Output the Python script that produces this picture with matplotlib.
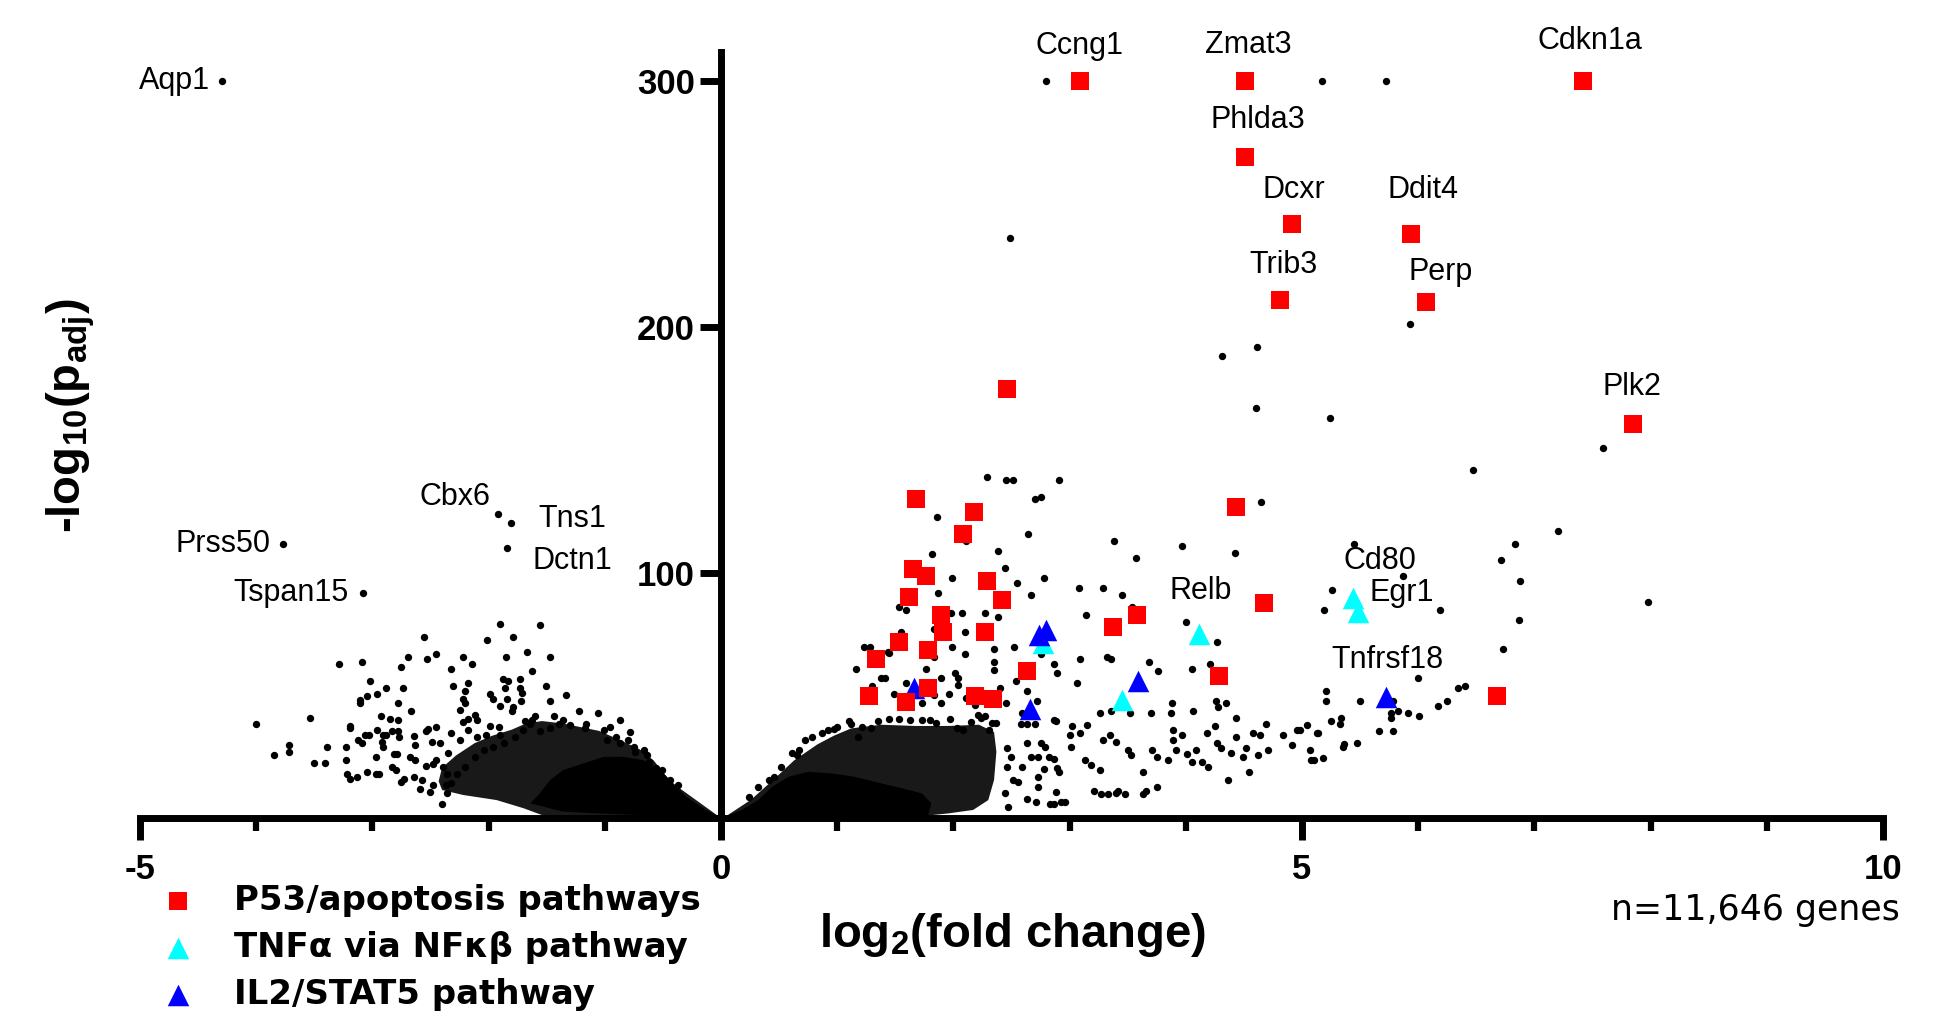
import matplotlib
matplotlib.use("Agg")
import matplotlib.pyplot as plt
from matplotlib.patches import Polygon

plt.rcParams["font.family"] = ["Liberation Sans", "DejaVu Sans"]
plt.rcParams["mathtext.fontset"] = "custom"
plt.rcParams["mathtext.rm"] = "Liberation Sans:bold"
plt.rcParams["mathtext.it"] = "Liberation Sans:bold"
plt.rcParams["mathtext.bf"] = "Liberation Sans:bold"

# ---------------- data: log2 fold change / -log10(padj) ----------------
# P53 / apoptosis pathway genes
p53_names = ["Ccng1", "Zmat3", "Cdkn1a", "Phlda3", "Dcxr", "Trib3", "Ddit4", "Perp", "Plk2",
             "", "", "", "", "", "", "", "", "", "", "",
             "", "", "", "", "", "", "", "", "", "",
             "", "", "", "", "", ""]
p53_fc = [3.09, 4.51, 7.42, 4.51, 4.91, 4.81, 5.94, 6.07, 7.85, 2.46,
          6.68, 1.68, 2.18, 2.08, 1.65, 1.76, 2.29, 1.62, 2.42, 1.89,
          1.91, 2.27, 1.53, 1.78, 1.33, 2.63, 1.78, 1.27, 1.59, 2.19,
          2.34, 3.37, 3.58, 4.43, 4.67, 4.29]
p53_p = [300, 300, 300, 269.2, 242.0, 210.8, 238.0, 210.0, 160.3, 174.8,
         49.7, 129.8, 124.7, 115.7, 101.6, 98.6, 96.6, 89.9, 88.7, 82.8,
         75.7, 75.7, 71.8, 68.6, 64.6, 59.8, 52.8, 49.7, 47.3, 49.7,
         48.5, 77.7, 82.7, 126.8, 87.7, 57.8]

# TNFa via NFkB pathway genes
tnf_names = ["", "Relb", "", "Cd80", "Egr1"]
tnf_fc = [2.77, 4.11, 3.45, 5.44, 5.48]
tnf_p = [71.1, 75.1, 48.0, 89.5, 84.0]

# IL2/STAT5 pathway genes
il2_names = ["", "", "", "", "", "Tnfrsf18"]
il2_fc = [2.74, 2.80, 1.66, 2.66, 3.59, 5.72]
il2_p = [74.5, 76.5, 52.8, 44.6, 55.8, 49.4]

# other named genes
named_genes = ["Aqp1", "Prss50", "Tspan15", "Cbx6", "Tns1", "Dctn1"]
named_fc = [-4.29, -3.77, -3.08, -1.92, -1.81, -1.84]
named_p = [300, 111.8, 91.5, 124.0, 120.0, 110.0]

# remaining individually resolved genes
other_fc = [
    -1.90, 2.80, 5.17, 5.72, 2.49, 4.31, 4.61, 4.60, 5.24, 5.93, 7.59, 6.47, 7.20, 6.83, 6.71,
    6.88, 7.98, 6.87, 6.73, 6.40, 6.34, 6.25, 6.17, 6.00, 6.01, 5.91, 5.83, 5.77, 5.77, 5.78,
    5.66, 5.78, 5.50, 5.21, 5.21, 5.25, 5.34, 5.33, 5.47, 5.36, 5.35, 5.04, 5.13, 5.07, 5.08,
    5.18, 4.98, 5.45, 5.87, 5.26, 5.19, 6.19,
    2.29, 2.45, 2.51, 2.91, 2.70, 2.75, 1.86, 2.64, 2.11, 3.38, 3.97, 4.42, 3.57, 2.38, 1.82,
    2.44, 2.78, 1.99, 2.55, 3.08, 3.29, 3.45, 2.67, 1.87, 1.53, 1.59, 1.98, 2.07, 2.27, 2.38,
    3.14, 3.54, 4.00, 4.27, 4.65, 1.83, 2.10, 2.52, 2.35, 1.99, 2.10, 1.83, 1.55, 1.44, 1.23,
    1.28, 1.16, 1.38, 1.41, 1.30, 1.49, 1.76, 1.89, 2.01, 2.04, 1.96, 2.35, 2.35, 2.40, 2.54,
    2.45, 2.63, 2.72, 2.75, 2.87, 2.89, 2.88, 3.09, 3.32, 3.36, 3.06, 3.68, 3.76, 4.05, 4.21,
    4.28, 4.26, 4.35, 4.06, 3.88, 3.87, 3.70, 3.52, 3.36, 3.26, 4.43, 4.69, 3.00, 3.09, 3.15,
    3.35, 3.29, 3.40, 3.50, 3.53, 3.63, 3.71, 3.75, 3.85, 3.89, 3.92, 3.97, 4.01, 4.05, 4.09,
    4.14, 4.19, 4.18, 4.25, 4.27, 4.30, 4.39, 4.43, 4.49, 4.52, 4.54, 4.58, 4.62, 4.64, 4.71,
    4.36, 4.84, 4.91, 4.96, 5.14, 5.10, 3.21, 3.27, 3.33, 3.40, 3.42, 3.48, 3.63, 3.66, 3.75,
    3.13, 3.26, 3.01, 2.63, 2.75, 2.67, 2.73, 2.78, 2.87, 2.88, 2.89, 2.96, 2.93, 2.87, 2.71,
    2.63,
    1.45, 1.59, 2.04, 1.73, 1.55, 1.83, 1.89, 2.11, 2.19, 2.21, 2.58, 2.63, 2.70, 2.59, 2.87,
    3.02, 3.18, 3.89, 2.83, 2.73, 2.73, 2.82, 2.91, 2.47, 2.46, 2.44, 2.56, 2.51, 2.50, 2.46,
    2.59, 2.79,
    0.97, 1.00, 1.10, 1.12, 1.21, 1.18, 1.29, 1.35, 1.45, 1.53, 1.63, 1.73, 1.80, 1.85, 1.97,
    2.03, 2.08, 2.15, 2.24, 2.27, 2.33, 2.37, 2.31,
    0.24, 0.32, 0.41, 0.46, 0.52, 0.61, 0.67, 0.72, 0.78, 0.87, 0.92, 0.65,
    -1.56, -2.56, -2.01, -1.79, -3.29, -3.09, -2.69, -2.75, -2.53, -2.45, -2.22, -2.14, -2.32,
    -1.85, -1.67, -1.47, -1.63, -3.02, -2.88, -2.96, -3.05, -3.11, -3.11, -2.74, -2.78, -2.67,
    -2.93, -2.85, -2.78, -3.19, -3.19, -4.00, -3.54, -3.85, -3.72, -3.72, -3.50, -3.41, -3.39,
    -3.23, -3.23, -3.22, -3.19, -3.13, -3.05, -2.97, -2.94, -2.97, -3.12, -3.09, -3.06, -3.03,
    -2.96, -2.91, -2.88, -2.83, -2.78, -2.77, -2.92, -2.91, -2.81, -2.79, -2.83, -2.80, -2.75,
    -2.73, -2.68, -2.63, -2.64, -2.63, -2.59, -2.57, -2.64, -2.54, -2.52, -2.45, -2.49, -2.42,
    -2.54, -2.48, -2.45, -2.40,
    -2.31, -2.18, -2.20, -2.22, -2.20, -1.88, -1.83, -1.73, -1.86, -1.73, -1.71, -1.99, -1.96,
    -1.84, -1.79, -1.72, -1.90, -1.80, -1.51, -1.47, -1.33, -1.22, -1.06, -1.44, -1.39, -1.60,
    -1.63, -1.69, -2.12, -2.18, -2.22, -2.25, -2.10, -1.91, -1.99, -1.90, -2.35, -2.39, -2.32,
    -2.25, -2.18, -2.10, -2.02, -2.50, -2.48, -2.37, -2.36,
    -0.955, -0.90, -1.01, -0.98, -0.87, -0.75, -0.66, -0.74, -0.62, -0.56, -0.51, -0.64,
    -0.44, -0.37, -0.46, -0.41, -1.17, -1.16, -1.30, -1.36, -1.47, -1.56, -1.64, -1.70,
    -1.77, -1.87, -1.96, -2.04, -2.12, -2.20, -2.27, -2.32, -2.36, -0.87, -0.78, -0.80,
]
other_p = [
    79.0, 300, 300, 300, 236.1, 188.0, 191.8, 167.1, 162.8, 201.1, 150.7, 141.9, 116.8, 111.8, 104.9,
    96.7, 87.8, 80.8, 68.8, 53.8, 52.8, 47.6, 45.6, 56.9, 41.6, 42.6, 43.7, 42.7, 40.8, 35.6,
    35.6, 47.6, 47.6, 51.8, 47.6, 39.7, 40.8, 38.5, 30.6, 30.0, 29.0, 37.9, 34.7, 27.7, 23.6,
    24.5, 35.8, 111.8, 98.6, 92.8, 84.8, 84.8,
    138.9, 137.8, 137.8, 137.8, 129.8, 130.9, 122.8, 115.7, 112.9, 112.9, 110.8, 108.0, 105.9, 108.8, 107.7,
    101.8, 97.8, 97.8, 95.8, 93.7, 93.7, 90.8, 90.8, 91.7, 85.8, 84.8, 83.7, 83.7, 83.7, 81.7,
    82.7, 85.8, 79.8, 71.8, 128.7, 76.8, 75.7, 69.7, 68.7, 69.7, 66.7, 65.7, 75.7, 67.7, 69.7,
    69.7, 60.8, 56.9, 56.9, 53.8, 50.7, 60.8, 56.9, 58.9, 56.9, 50.7, 63.6, 60.2, 52.8, 55.8,
    46.7, 51.7, 47.6, 66.7, 62.6, 58.9, 39.5, 64.7, 65.7, 64.7, 54.8, 63.6, 59.8, 60.8, 62.6,
    45.3, 47.6, 46.7, 43.7, 46.7, 42.6, 42.6, 42.6, 43.7, 42.6, 40.6, 38.5, 33.8, 34.7, 37.7,
    33.8, 31.7, 30.8, 27.7, 25.6, 18.6, 27.7, 24.7, 23.6, 31.7, 27.7, 33.8, 26.0, 22.9, 27.7,
    22.9, 20.9, 34.5, 37.4, 30.4, 28.6, 26.6, 33.1, 24.7, 28.6, 18.6, 34.5, 25.6, 33.8, 27.7,
    15.5, 33.8, 29.7, 35.8, 34.5, 23.6, 11.0, 9.8, 9.8, 10.0, 11.0, 9.8, 9.8, 11.0, 12.7,
    23.6, 19.5, 28.8, 30.6, 30.6, 24.7, 24.7, 19.8, 24.2, 10.7, 20.2, 6.6, 6.6, 5.9, 6.6,
    7.6,
    67.4, 54.8, 54.1, 46.7, 46.7, 50.1, 46.7, 48.7, 46.0, 41.9, 38.5, 38.5, 38.5, 42.6, 39.9,
    37.6, 21.6, 35.8, 5.6, 12.7, 16.8, 25.0, 18.8, 4.6, 20.6, 10.0, 14.5, 15.5, 25.0, 28.4,
    20.9, 29.0,
    36.1, 36.9, 39.5, 38.5, 37.2, 33.1, 36.5, 39.5, 40.5, 40.5, 39.9, 39.9, 39.9, 38.8, 40.4,
    36.5, 35.8, 39.2, 40.8, 41.5, 38.9, 38.8, 35.8,
    8.7, 12.7, 15.5, 16.8, 20.9, 26.3, 27.7, 31.7, 33.1, 34.5, 35.8, 25.6,
    78.8, 73.8, 72.7, 73.8, 62.9, 63.6, 65.7, 61.6, 64.6, 66.7, 65.7, 62.9, 60.6,
    65.7, 67.7, 65.7, 59.8, 55.8, 52.8, 50.5, 49.7, 48.0, 46.7, 52.8, 46.7, 43.7,
    41.6, 40.5, 39.8, 37.4, 36.5, 38.5, 40.6, 25.6, 29.7, 26.7, 22.5, 22.5, 28.8,
    29.0, 23.6, 17.9, 15.7, 16.8, 18.6, 17.8, 17.8, 24.9, 31.7, 30.4, 33.8, 33.8,
    35.8, 34.0, 34.0, 35.3, 35.3, 33.1, 31.1, 29.0, 25.9, 25.9, 20.9, 19.5, 14.8,
    15.9, 24.9, 23.6, 33.5, 29.6, 11.7, 15.5, 16.6, 35.3, 36.2, 36.9, 31.1, 30.4,
    21.2, 22.2, 23.6, 5.7,
    53.8, 54.8, 51.8, 48.4, 46.7, 56.6, 55.8, 56.6, 52.8, 52.8, 50.8, 50.5, 48.4,
    48.4, 45.3, 47.8, 45.6, 43.7, 53.7, 47.8, 50.1, 43.7, 42.6, 41.5, 38.2, 41.5,
    39.9, 39.5, 42.1, 40.5, 39.2, 44.0, 39.9, 37.2, 37.4, 33.8, 26.3, 20.9, 34.5,
    31.7, 35.8, 33.1, 33.8, 10.7, 13.4, 13.4, 18.1,
    37.2, 33.1, 35.8, 31.7, 30.4, 29.0, 27.7, 27.0, 22.9, 20.2, 19.5, 25.6,
    15.5, 13.4, 12.8, 10.7, 36.5, 38.2, 37.8, 39.8, 36.7, 35.4, 38.5, 35.8,
    33.1, 30.4, 29.0, 27.7, 24.9, 20.9, 18.1, 14.1, 10.1, 39.8, 35.1, 31.7,
]

# outlines of the crowded low-significance regions (too dense to resolve single genes)
down_dense_fc = [0.0, -0.15, -0.30, -0.41, -0.52, -0.67, -0.84, -1.01, -1.18, -1.36, -1.47,
                 -1.56, -1.64, -1.36, -1.07]
down_dense_p = [0.0, 3.9, 8.7, 14.1, 19.5, 23.6, 24.9, 24.9, 22.3, 19.5, 15.5,
                10.0, 6.0, 2.6, 1.9]
down_spread_fc = [0.0, -0.44, -0.58, -0.70, -0.88, -1.05, -1.36, -1.54, -1.68, -1.80, -1.97,
                  -2.12, -2.28, -2.40, -2.43, -2.40, -2.22, -1.93, -1.70, -1.50]
down_spread_p = [0.0, 15.0, 23.5, 28.0, 32.0, 35.5, 38.5, 39.5, 38.5, 36.0, 33.5,
                 30.5, 25.5, 20.5, 15.0, 11.4, 9.4, 7.3, 4.0, 0.5]
up_dense_fc = [0.0, 0.18, 0.32, 0.44, 0.58, 0.75, 0.95, 1.15, 1.38, 1.56, 1.73, 1.81, 1.78]
up_dense_p = [0.0, 3.3, 7.3, 12.7, 16.8, 18.8, 18.2, 16.8, 14.1, 12.1, 10.0, 6.0, 0.5]
up_spread_fc = [0.02, 0.26, 0.46, 0.63, 0.83, 0.97, 1.12, 1.38, 1.67, 1.96, 2.22, 2.35,
                2.37, 2.35, 2.30, 2.17, 1.96, 1.67]
up_spread_p = [0.0, 7.5, 16.0, 23.5, 30.0, 33.5, 36.5, 38.0, 37.5, 37.5, 38.0, 35.0,
               27.0, 15.5, 7.3, 3.3, 1.9, 0.5]

x_ticks = [-5, 0, 5, 10]
y_ticks = [100, 200, 300]
legend_labels = ["P53/apoptosis pathways", "TNF\u03b1 via NF\u03ba\u03b2 pathway", "IL2/STAT5 pathway"]
gene_count_note = "n=11,646 genes"

# ---------------- figure ----------------
DPI = 100
fig = plt.figure(figsize=(19.49, 10.26), dpi=DPI)
ax = fig.add_axes([0.07183, 0.2027, 0.8943, 0.7466])
ax.set_xlim(-5, 10)
ax.set_ylim(0, 312)

# crowded regions
for fx, fp, a in [(down_spread_fc, down_spread_p, 0.9), (up_spread_fc, up_spread_p, 0.9),
                  (down_dense_fc, down_dense_p, 1.0), (up_dense_fc, up_dense_p, 1.0)]:
    ax.add_patch(Polygon(list(zip(fx, fp)), closed=True, facecolor="black",
                         edgecolor="none", alpha=a, zorder=1))

dot_s = 28
ax.scatter(other_fc, other_p, s=dot_s, c="black", linewidths=0, zorder=2)
ax.scatter(named_fc, named_p, s=dot_s, c="black", linewidths=0, zorder=2)

h_p53 = ax.scatter(p53_fc, p53_p, s=150, marker="s", c="#ff0000", linewidths=0, zorder=4)
h_tnf = ax.scatter(tnf_fc, tnf_p, s=240, marker="^", c="#00ffff", linewidths=0, zorder=3)
h_il2 = ax.scatter(il2_fc, il2_p, s=240, marker="^", c="#0000ff", linewidths=0, zorder=3)

# gene labels: offset from the mark in pixels, and alignment
label_layout = {
    "Aqp1": (-12, 0, "right"), "Prss50": (-12, 0, "right"), "Tspan15": (-14, 0, "right"),
    "Cbx6": (-43, 17, "center"), "Tns1": (62, 4, "center"), "Dctn1": (65, -13, "center"),
    "Ccng1": (-1, 35, "center"), "Zmat3": (3, 36, "center"), "Cdkn1a": (7, 40, "center"),
    "Phlda3": (13, 37, "center"), "Dcxr": (2, 34, "center"), "Trib3": (4, 35, "center"),
    "Ddit4": (12, 44, "center"), "Perp": (14, 30, "center"), "Plk2": (-1, 37, "center"),
    "Relb": (2, 43, "center"), "Cd80": (27, 37, "center"), "Egr1": (44, 19, "center"),
    "Tnfrsf18": (2, 37, "center"),
}
px2pt = 72.0 / DPI
for names, xs, ys in [(named_genes, named_fc, named_p), (p53_names, p53_fc, p53_p),
                      (tnf_names, tnf_fc, tnf_p), (il2_names, il2_fc, il2_p)]:
    for n, gx, gy in zip(names, xs, ys):
        if not n:
            continue
        dx, dy, ha = label_layout[n]
        ax.annotate(n, (gx, gy), xytext=(dx * px2pt, dy * px2pt), textcoords="offset points",
                    ha=ha, va="center", fontsize=22, color="black", zorder=5,
                    annotation_clip=False)

# axes styling
for side in ["top", "right"]:
    ax.spines[side].set_visible(False)
ax.spines["left"].set_position(("data", 0))
ax.spines["left"].set_linewidth(5)
ax.spines["bottom"].set_linewidth(5)
ax.spines["left"].set_capstyle("projecting")
ax.spines["bottom"].set_capstyle("projecting")

ax.set_xticks(x_ticks)
ax.set_xticklabels([str(t) for t in x_ticks])
ax.set_xticks([t for t in range(-5, 11) if t not in x_ticks], minor=True)
ax.set_yticks(y_ticks)
ax.set_yticklabels([str(t) for t in y_ticks])
ax.tick_params(axis="x", which="major", length=16, width=5, pad=9, labelsize=25)
ax.tick_params(axis="x", which="minor", length=9.5, width=4.5)
ax.tick_params(axis="y", which="major", length=15, width=5, pad=4, labelsize=25)
for lab in ax.get_xticklabels() + ax.get_yticklabels():
    lab.set_fontweight("bold")

fig.text(1013 / 1949, 1 - 935 / 1026, r"log$_2$(fold change)", fontsize=34,
         fontweight="bold", ha="center", va="center")
fig.text(71 / 1949, 1 - 416 / 1026, r"-log$_{10}$(p$_{\mathrm{adj}}$)", fontsize=34,
         fontweight="bold", ha="center", va="center", rotation=90)
fig.text(1900 / 1949, 1 - 920 / 1026, gene_count_note, fontsize=25,
         family=["DejaVu Sans"], ha="right", va="baseline")

leg = fig.legend([h_p53, h_tnf, h_il2], legend_labels, loc="upper left",
                 bbox_to_anchor=(163 / 1949, 1 - 884 / 1026), frameon=False,
                 borderpad=0, borderaxespad=0, handlelength=0.9, handletextpad=1.19,
                 labelspacing=0.41, scatterpoints=1,
                 prop={"family": ["DejaVu Sans"], "weight": "bold", "size": 24.5})

fig.savefig("out.png", dpi=DPI)
